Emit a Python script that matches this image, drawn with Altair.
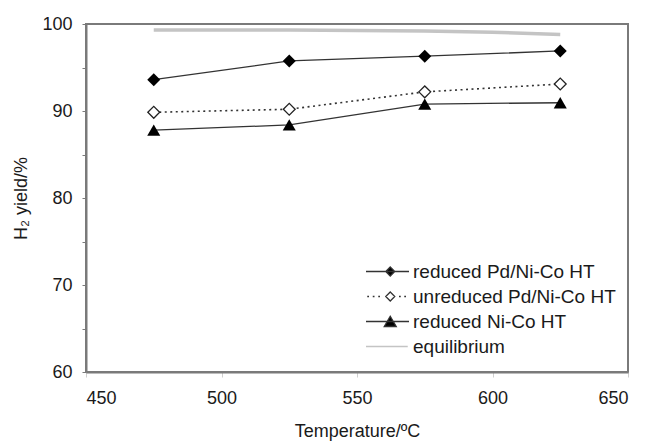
import altair as alt
import pandas as pd

# ---- data ----
temps = [475, 525, 575, 625]
reduced_pd = [93.6, 95.75, 96.3, 96.9]
unreduced_pd = [89.85, 90.2, 92.2, 93.1]
reduced_nico = [87.8, 88.4, 90.8, 90.95]
eq_temps = [475, 525, 575, 600, 625]
equilibrium = [99.3, 99.3, 99.2, 99.05, 98.8]

series_names = ["reduced Pd/Ni-Co HT", "unreduced Pd/Ni-Co HT",
                "reduced Ni-Co HT", "equilibrium"]

rows = []
for t, v in zip(temps, reduced_pd):
    rows.append({"series": series_names[0], "T": t, "Y": v})
for t, v in zip(temps, unreduced_pd):
    rows.append({"series": series_names[1], "T": t, "Y": v})
for t, v in zip(temps, reduced_nico):
    rows.append({"series": series_names[2], "T": t, "Y": v})
for t, v in zip(eq_temps, equilibrium):
    rows.append({"series": series_names[3], "T": t, "Y": v})
df = pd.DataFrame(rows)

FONT = "Liberation Sans"
TXT = "#1a1a1a"
LINE = "#333333"
GRAY = "#c4c4c4"

xs = alt.Scale(domain=[450, 650], nice=False)
ys = alt.Scale(domain=[60, 100], nice=False)

xenc = alt.X("T:Q", scale=xs, title="Temperature/ºC",
             axis=alt.Axis(values=[450, 500, 550, 600, 650], format="d"))
yenc = alt.Y("Y:Q", scale=ys, title="H₂ yield/%",
             axis=alt.Axis(values=[60, 65, 70, 75, 80, 85, 90, 95, 100],
                           labelExpr="datum.value % 10 === 0 ? datum.label : ''"))

base = alt.Chart(df).encode(x=xenc, y=yenc)


def sel(name):
    return base.transform_filter(alt.datum.series == name)


eq_line = sel(series_names[3]).mark_line(color=GRAY, strokeWidth=3.5, strokeCap="butt")
l1 = sel(series_names[0]).mark_line(color=LINE, strokeWidth=1.3)
l2 = sel(series_names[1]).mark_line(color=LINE, strokeWidth=1.6, strokeDash=[2, 3.5])
l3 = sel(series_names[2]).mark_line(color=LINE, strokeWidth=1.3)
p1 = sel(series_names[0]).mark_point(shape="diamond", filled=True, color="#000000",
                                     size=170, opacity=1)
p2 = sel(series_names[1]).mark_point(shape="diamond", filled=True, fill="#ffffff",
                                     stroke="#222222", strokeWidth=1.3, size=140, opacity=1)
p3 = sel(series_names[2]).mark_point(shape="triangle-up", filled=True, color="#000000",
                                     size=170, opacity=1)

# legend-only layer (no visible marks; the legend comes from its scales)
diamond = "M-0.5,-0.36L-0.14,0L-0.5,0.36L-0.86,0Z"
legend_paths = [
    "M-2.44,0H1" + diamond,
    "M-2.34,0H-2.2M-1.9,0H-1.76M-1.46,0H-1.32M0.2,0H0.34M0.62,0H0.76" + diamond,
    "M-2.44,0H1M-0.5,-0.42L-0.02,0.4L-0.98,0.4Z",
    "M-2.44,0H0.9",
]
legend_layer = alt.Chart(df).transform_filter("false").mark_point(opacity=1).encode(
    x=xenc, y=yenc,
    shape=alt.Shape("series:N", scale=alt.Scale(domain=series_names, range=legend_paths),
                    legend=alt.Legend(title=None, orient="none", legendX=297, legendY=234,
                                      symbolSize=625, labelFont=FONT, labelFontSize=19,
                                      labelColor=TXT, labelOffset=3, rowPadding=1,
                                      labelLimit=300)),
    fill=alt.Fill("series:N", scale=alt.Scale(domain=series_names,
                                              range=["#000000", "#ffffff", "#000000", "transparent"])),
    stroke=alt.Stroke("series:N", scale=alt.Scale(domain=series_names,
                                                  range=[LINE, LINE, LINE, GRAY])),
    strokeWidth=alt.StrokeWidth("series:N", scale=alt.Scale(domain=series_names,
                                                            range=[1.3, 1.3, 1.3, 3.5])),
)

chart = alt.layer(eq_line, l1, l2, l3, p1, p2, p3, legend_layer).properties(
    width=542, height=348,
    autosize=alt.AutoSizeParams(type="none"),
    padding={"left": 86, "top": 24, "right": 18, "bottom": 72},
    background="white",
).configure_view(
    stroke="#7a7a7a", strokeWidth=2
).configure_axis(
    labelFont=FONT, titleFont=FONT, labelFontSize=18, titleFontSize=18,
    labelColor=TXT, titleColor=TXT, titleFontWeight="normal",
    domainColor="#7a7a7a", domainWidth=2, grid=False,
).configure_axisX(
    tickColor="#cfcfcf", tickSize=5, labelPadding=12, titlePadding=15,
).configure_axisY(
    tickColor="#7a7a7a", tickSize=4, labelPadding=10, titlePadding=11,
)

chart.save("out.html", embed_options={"renderer": "svg", "actions": False})
